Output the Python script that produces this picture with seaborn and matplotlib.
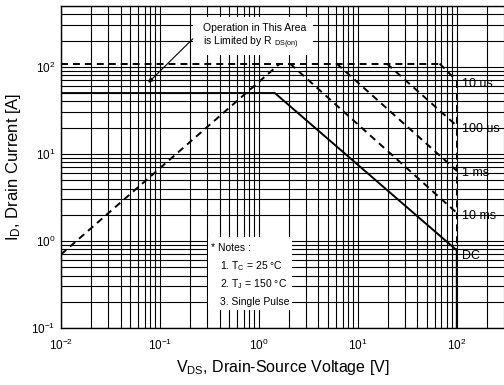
import matplotlib
matplotlib.use("Agg")
import matplotlib.pyplot as plt
from matplotlib.patches import Rectangle
import seaborn as sns
import numpy as np
import pandas as pd

# ---- data ----
rds_v = [0.01, 1.63]
rds_i = [0.70, 109]
idm_v = [0.01, 67]
idm_i = [109, 109]
t10us_v = [67, 100]
t10us_i = [109, 69]
t100us_v = [19.6, 100]
t100us_i = [109, 21]
t1ms_v = [6.1, 100]
t1ms_i = [109, 6.4]
t10ms_v = [2.06, 100]
t10ms_i = [109, 2.1]
dc_v = [0.01, 1.45, 100, 100]
dc_i = [50, 50, 0.78, 0.1]
bv_v = [100, 100]
bv_i = [69, 0.78]
curve_labels = ["10 us", "100 us", "1 ms", "10 ms", "DC"]
curve_label_i = [63, 19.5, 6.1, 1.92, 0.67]
xticks = [0.01, 0.1, 1, 10, 100]
yticks = [0.1, 1, 10, 100]

sns.set_theme(style="white")
plt.rcParams["font.family"] = ["Liberation Sans", "DejaVu Sans"]
plt.rcParams["mathtext.fontset"] = "custom"
plt.rcParams["mathtext.rm"] = "Liberation Sans"
plt.rcParams["mathtext.it"] = "Liberation Sans"
plt.rcParams["lines.scale_dashes"] = False
plt.rcParams["lines.dashed_pattern"] = [5.0, 3.6]

W, H = 504, 385
fig = plt.figure(figsize=(W / 100, H / 100), dpi=100)
fig.patch.set_facecolor("white")
ax = fig.add_axes([61 / W, 1 - 328 / H, 443 / W, (328 - 6) / H])
ax.set_facecolor("white")
ax.set_xscale("log")
ax.set_yscale("log")
ax.set_xlim(0.01, 300)
ax.set_ylim(0.1, 500)

ax.grid(True, which="both", color="black", linewidth=0.8, zorder=0)
ax.set_axisbelow(True)

lw = 1.4
def draw(v, i, dashed):
    df = pd.DataFrame({"v": v, "i": i})
    sns.lineplot(data=df, x="v", y="i", ax=ax, color="black", linewidth=lw,
                 linestyle="--" if dashed else "-", sort=False,
                 estimator=None, zorder=2)

draw(rds_v, rds_i, True)
draw(idm_v, idm_i, True)
draw(t10us_v, t10us_i, True)
draw(t100us_v, t100us_i, True)
draw(t1ms_v, t1ms_i, True)
draw(t10ms_v, t10ms_i, True)
draw(bv_v, bv_i, True)
draw(dc_v, dc_i, False)

for lab, yi in zip(curve_labels, curve_label_i):
    ax.text(112, yi, lab, ha="left", va="center", fontsize=9, color="black",
            zorder=4)

ax.set_xticks(xticks)
ax.set_yticks(yticks)
ax.tick_params(axis="both", which="both", direction="in", colors="black",
               labelsize=8.5, length=3)
ax.tick_params(axis="x", which="major", pad=7)
ax.tick_params(axis="y", which="major", pad=4)
ax.tick_params(axis="both", which="minor", length=3)
for s in ["left", "bottom", "top"]:
    ax.spines[s].set_color("black")
    ax.spines[s].set_linewidth(1.0)
ax.spines["right"].set_visible(False)

ax.set_xlabel(r"$\mathregular{V_{DS}}$, Drain-Source Voltage [V]", fontsize=11.5,
              color="black", labelpad=4)
ax.set_ylabel(r"$\mathregular{I_{D}}$, Drain Current [A]", fontsize=12,
              color="black", labelpad=6)

# annotation box (R_DS(on) limit)
ax.add_patch(Rectangle((193 / W, 1 - 55 / H), 120 / W, 38 / H,
                       transform=fig.transFigure, facecolor="white",
                       edgecolor="none", zorder=3))
fig.text(203 / W, 1 - 28 / H, "Operation in This Area", fontsize=7.5,
         ha="left", va="center", color="black")
fig.text(203 / W, 1 - 43 / H, r"is Limited by $\mathregular{R\ _{DS(on)}}$",
         fontsize=7.5, ha="left", va="center", color="black")
ax.annotate("", xy=(0.076, 65.6), xytext=(0.215, 210),
            arrowprops=dict(arrowstyle="-|>", color="black", lw=0.8,
                            mutation_scale=7, shrinkA=0, shrinkB=0),
            zorder=3)

# notes box
ax.add_patch(Rectangle((208 / W, 1 - 310 / H), 84 / W, 73 / H,
                       transform=fig.transFigure, facecolor="white",
                       edgecolor="none", zorder=3))
notes = ["* Notes :", r"1. T$\mathregular{_C}$ = 25 °C",
         r"2. T$\mathregular{_J}$ = 150 °C", "3. Single Pulse"]
note_y = [248, 266, 284, 302]
note_x = [211, 220, 220, 220]
for t, xx, yy in zip(notes, note_x, note_y):
    fig.text(xx / W, 1 - yy / H, t, fontsize=7.5, ha="left", va="center",
             color="black")

fig.savefig("out.png", dpi=100, facecolor="white")
